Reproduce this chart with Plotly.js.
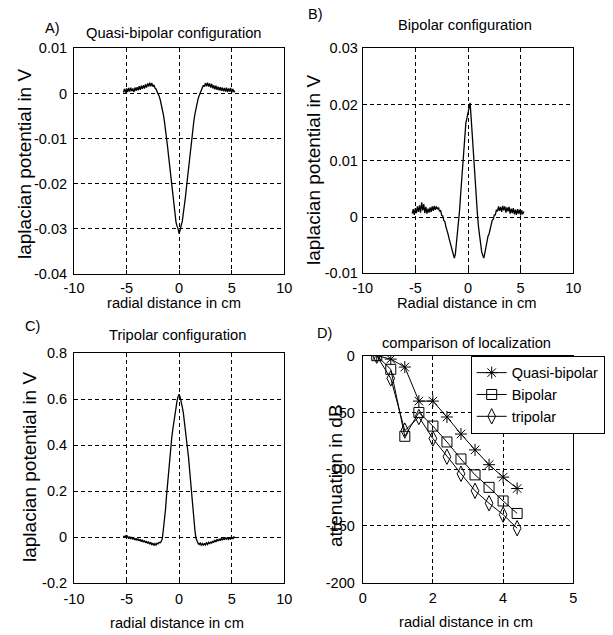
<!DOCTYPE html>
<html>
<head>
<meta charset="utf-8">
<script src="https://cdn.plot.ly/plotly-3.0.1.min.js"></script>
<style>html,body{margin:0;padding:0;background:#fff;}#chart{width:613px;height:635px;}</style>
</head>
<body>
<div id="chart"></div>
<script>
// ---- data ----
const radialX = [-5.3,-5.2,-5.1,-5.0,-4.9,-4.8,-4.7,-4.6,-4.5,-4.4,
  -4.3,-4.2,-4.1,-4.0,-3.9,-3.8,-3.7,-3.6,-3.5,-3.4,
  -3.3,-3.2,-3.1,-3.0,-2.9,-2.8,-2.7,-2.6,-2.5,-2.4,
  -2.3,-2.2,-2.1,-2.0,-1.9,-1.8,-1.7,-1.6,-1.5,-1.4,
  -1.3,-1.2,-1.1,-1.0,-0.9,-0.8,-0.7,-0.6,-0.5,-0.4,
  -0.3,-0.2,-0.1,0.0,0.1,0.2,0.3,0.4,0.5,0.6,
  0.7,0.8,0.9,1.0,1.1,1.2,1.3,1.4,1.5,1.6,
  1.7,1.8,1.9,2.0,2.1,2.2,2.3,2.4,2.5,2.6,
  2.7,2.8,2.9,3.0,3.1,3.2,3.3,3.4,3.5,3.6,
  3.7,3.8,3.9,4.0,4.1,4.2,4.3,4.4,4.5,4.6,
  4.7,4.8,4.9,5.0,5.1,5.2,5.3];

const quasiBipolarV = [0.0002,0.0010,0.0002,0.0011,0.0003,0.0012,0.0004,0.0013,0.0005,0.0011,
  0.0003,0.0013,0.0006,0.0014,0.0007,0.0016,0.0008,0.0017,0.0010,0.0018,
  0.0011,0.0020,0.0013,0.0022,0.0015,0.0024,0.0016,0.0023,0.0015,0.0019,
  0.0012,0.0010,0.0004,0.0000,-0.0006,-0.0014,-0.0024,-0.0034,-0.0047,-0.0062,
  -0.0078,-0.0097,-0.0118,-0.0140,-0.0162,-0.0185,-0.0208,-0.0230,-0.0251,-0.0269,
  -0.0285,-0.0294,-0.0300,-0.0311,-0.0298,-0.0292,-0.0283,-0.0268,-0.0250,-0.0229,
  -0.0207,-0.0184,-0.0161,-0.0139,-0.0117,-0.0096,-0.0077,-0.0061,-0.0046,-0.0033,
  -0.0022,-0.0012,-0.0005,0.0002,0.0008,0.0012,0.0018,0.0015,0.0023,0.0016,
  0.0024,0.0015,0.0022,0.0013,0.0021,0.0011,0.0018,0.0009,0.0017,0.0008,
  0.0015,0.0007,0.0014,0.0006,0.0013,0.0005,0.0012,0.0004,0.0013,0.0003,
  0.0011,0.0004,0.0012,0.0002,0.0010,0.0003,0.0006];

const bipolarV = [0.0006,0.0014,0.0004,0.0016,0.0007,0.0019,0.0009,0.0021,0.0008,0.0026,
  0.0012,0.0023,0.0007,0.0018,0.0006,0.0015,0.0008,0.0017,0.0009,0.0019,
  0.0011,0.0020,0.0013,0.0019,0.0014,0.0017,0.0010,0.0012,0.0003,0.0002,
  -0.0006,-0.0008,-0.0017,-0.0022,-0.0030,-0.0038,-0.0046,-0.0053,-0.0060,-0.0067,
  -0.0073,-0.0066,-0.0048,-0.0032,-0.0010,0.0012,0.0040,0.0065,0.0092,0.0124,
  0.0158,0.0168,0.0176,0.0186,0.0192,0.0203,0.0176,0.0145,0.0112,0.0082,
  0.0050,0.0024,0.0004,-0.0018,-0.0036,-0.0050,-0.0062,-0.0068,-0.0073,-0.0064,
  -0.0052,-0.0044,-0.0034,-0.0030,-0.0020,-0.0015,-0.0006,-0.0004,0.0004,0.0004,
  0.0013,0.0010,0.0019,0.0011,0.0018,0.0009,0.0020,0.0012,0.0019,0.0008,
  0.0017,0.0010,0.0018,0.0006,0.0015,0.0007,0.0016,0.0005,0.0013,0.0004,
  0.0014,0.0006,0.0013,0.0003,0.0012,0.0005,0.0010];

const tripolarV = [0.006,-0.002,0.008,0.000,0.005,-0.006,0.003,-0.007,0.001,-0.009,
  -0.002,-0.012,-0.004,-0.014,-0.006,-0.016,-0.009,-0.019,-0.011,-0.021,
  -0.014,-0.024,-0.017,-0.027,-0.019,-0.030,-0.022,-0.033,-0.025,-0.036,
  -0.027,-0.034,-0.026,-0.029,-0.022,-0.024,-0.018,-0.006,0.035,0.070,
  0.120,0.180,0.235,0.290,0.345,0.392,0.435,0.470,0.505,0.540,
  0.568,0.593,0.612,0.622,0.608,0.590,0.566,0.540,0.505,0.470,
  0.432,0.392,0.345,0.290,0.235,0.180,0.120,0.072,0.030,-0.004,
  -0.020,-0.026,-0.031,-0.025,-0.034,-0.027,-0.036,-0.026,-0.033,-0.024,
  -0.031,-0.022,-0.029,-0.019,-0.026,-0.016,-0.023,-0.012,-0.020,-0.009,
  -0.017,-0.007,-0.015,-0.004,-0.013,-0.003,-0.011,-0.001,-0.010,0.000,
  -0.009,-0.002,-0.008,0.001,-0.007,0.002,-0.003];

const locX = [0.4,0.8,1.2,1.6,2.0,2.4,2.8,3.2,3.6,4.0,4.4];
const locQuasi = [0,-3,-10,-40,-40,-54,-69,-83,-96,-107,-117];
const locBipolar = [0,-12,-71,-50,-62,-76,-91,-105,-116,-128,-139];
const locTripolar = [0,-20,-66,-54,-73,-89,-104,-119,-130,-140,-152];
const locNames = ['Quasi-bipolar','Bipolar','tripolar'];

const tickA = [0.01,0,-0.01,-0.02,-0.03,-0.04];
const tickALabels = ['0.01','0','-0.01','-0.02','-0.03','-0.04'];
const tickB = [0.03,0.02,0.01,0,-0.01];
const tickBLabels = ['0.03','0.02','0.01','0','-0.01'];
const tickC = [0.8,0.6,0.4,0.2,0,-0.2];
const tickCLabels = ['0.8','0.6','0.4','0.2','0','-0.2'];
const tickD = [0,-50,-100,-150,-200];
const tickDLabels = ['0','-50','-100','-150','-200'];
const tickX = [-10,-5,0,5,10];
const tickXLabels = ['-10','-5','0','5','10'];
const tickDX = [0,2,4,6];
const tickDXLabels = ['0','2','4','5'];

// ---- layout helpers ----
const W = 613, H = 635;
const FONT = 'Liberation Sans, Arial, Helvetica, sans-serif';
const fx = p => p / W;
const fy = p => 1 - p / H;

function axisStyle(extra) {
  return Object.assign({
    showline: true, mirror: true, linecolor: '#000', linewidth: 1,
    showgrid: true, gridcolor: '#000', gridwidth: 1, griddash: '4px,3px',
    zeroline: false, ticks: 'inside', ticklen: 4, tickcolor: '#000',
    tickfont: {family: FONT, size: 14.5, color: '#000'},
    tickmode: 'array', fixedrange: true
  }, extra);
}

const lineStyle = {color: '#000', width: 1.3};
const traces = [
  {x: radialX, y: quasiBipolarV, xaxis: 'x', yaxis: 'y', mode: 'lines', line: lineStyle, showlegend: false},
  {x: radialX, y: bipolarV, xaxis: 'x2', yaxis: 'y2', mode: 'lines', line: lineStyle, showlegend: false},
  {x: radialX, y: tripolarV, xaxis: 'x3', yaxis: 'y3', mode: 'lines', line: lineStyle, showlegend: false},
  {x: locX, y: locQuasi, xaxis: 'x4', yaxis: 'y4', mode: 'lines+markers', name: locNames[0],
   line: {color: '#000', width: 1}, marker: {symbol: 'asterisk-open', size: 10, color: '#000', line: {color: '#000', width: 1}}},
  {x: locX, y: locBipolar, xaxis: 'x4', yaxis: 'y4', mode: 'lines+markers', name: locNames[1],
   line: {color: '#000', width: 1}, marker: {symbol: 'square-open', size: 10, color: '#000', line: {color: '#000', width: 1}}},
  {x: locX, y: locTripolar, xaxis: 'x4', yaxis: 'y4', mode: 'lines+markers', name: locNames[2],
   line: {color: '#000', width: 1}, marker: {symbol: 'diamond-tall-open', size: 11, color: '#000', line: {color: '#000', width: 1}}}
];

function ann(text, px, py, size, angle) {
  return {text: text, x: fx(px), y: fy(py), xref: 'paper', yref: 'paper',
    xanchor: 'center', yanchor: 'middle', showarrow: false, textangle: angle || 0,
    font: {family: FONT, size: size, color: '#000'}};
}

const annotations = [
  ann('A)', 52.5, 28.3, 14.5),
  ann('Quasi-bipolar configuration', 173.8, 33.3, 14.7),
  ann('B)', 315, 14, 14.5),
  ann('Bipolar configuration', 465.3, 25, 14.7),
  ann('C)', 32.5, 325.8, 14.5),
  ann('Tripolar configuration', 177, 335, 14.7),
  ann('D)', 324, 332.5, 14.5),
  ann('comparison of localization', 466.7, 343.3, 14.7),
  ann('radial distance in cm', 174.2, 303, 14.7),
  ann('Radial distance in cm', 466.7, 303, 14.7),
  ann('radial distance in cm', 177, 623.3, 14.7),
  ann('radial distance in cm', 466, 621.7, 14.7),
  ann('laplacian potential in V', 25, 164, 19, -90),
  ann('laplacian potential in V', 314, 170, 19, -90),
  ann('laplacian potential in V', 29, 467, 19, -90),
  ann('attenuation in dB', 335, 476, 19, -90)
];

const layout = {
  width: W, height: H,
  margin: {l: 0, r: 0, t: 0, b: 0},
  paper_bgcolor: '#fff', plot_bgcolor: '#fff',
  font: {family: FONT, size: 14.5, color: '#000'},
  xaxis: axisStyle({domain: [fx(74), fx(284.3)], anchor: 'y', range: [-10, 10], tickvals: tickX, ticktext: tickXLabels, ticklabelstandoff: 1}),
  yaxis: axisStyle({domain: [fy(274), fy(48.3)], anchor: 'x', range: [-0.04, 0.01], tickvals: tickA, ticktext: tickALabels, ticklabelstandoff: 3}),
  xaxis2: axisStyle({domain: [fx(362.7), fx(573.3)], anchor: 'y2', range: [-10, 10], tickvals: tickX, ticktext: tickXLabels, ticklabelstandoff: 1}),
  yaxis2: axisStyle({domain: [fy(273.3), fy(48.3)], anchor: 'x2', range: [-0.01, 0.03], tickvals: tickB, ticktext: tickBLabels, ticklabelstandoff: 1}),
  xaxis3: axisStyle({domain: [fx(74), fx(284.3)], anchor: 'y3', range: [-10, 10], tickvals: tickX, ticktext: tickXLabels, ticklabelstandoff: 2}),
  yaxis3: axisStyle({domain: [fy(583.3), fy(353.3)], anchor: 'x3', range: [-0.2, 0.8], tickvals: tickC, ticktext: tickCLabels, ticklabelstandoff: 3}),
  xaxis4: axisStyle({domain: [fx(362.7), fx(573.3)], anchor: 'y4', range: [0, 6], tickvals: tickDX, ticktext: tickDXLabels, ticklabelstandoff: 2}),
  yaxis4: axisStyle({domain: [fy(582.7), fy(355.7)], anchor: 'x4', range: [-200, 0], tickvals: tickD, ticktext: tickDLabels, ticklabelstandoff: 4}),
  showlegend: true,
  legend: {x: fx(470.7), y: fy(355.7), xanchor: 'left', yanchor: 'top', xref: 'paper', yref: 'paper',
    bgcolor: '#fff', bordercolor: '#000', borderwidth: 1,
    font: {family: FONT, size: 14.5, color: '#000'}, tracegroupgap: 0},
  annotations: annotations
};

Plotly.newPlot('chart', traces, layout, {staticPlot: true, displayModeBar: false});
</script>
</body>
</html>
